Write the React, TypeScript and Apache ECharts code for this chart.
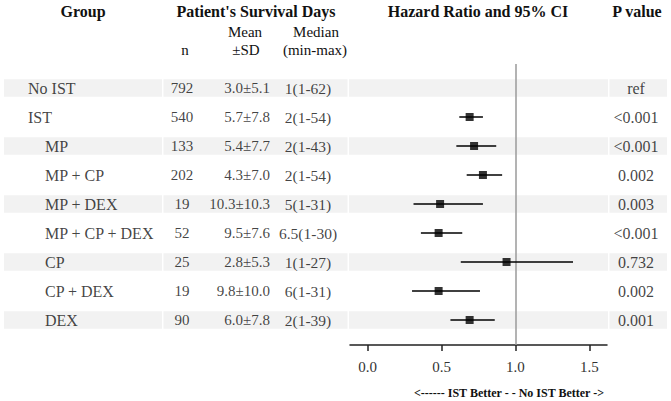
import React, { useEffect, useRef } from "react";
import * as echarts from "echarts";

const groups = ["No IST", "IST", "MP", "MP + CP", "MP + DEX", "MP + CP + DEX", "CP", "CP + DEX", "DEX"];
const indent = [0, 0, 1, 1, 1, 1, 1, 1, 1];
const nValues = [792, 540, 133, 202, 19, 52, 25, 19, 90];
const meanSD = ["3.0±5.1", "5.7±7.8", "5.4±7.7", "4.3±7.0", "10.3±10.3", "9.5±7.6", "2.8±5.3", "9.8±10.0", "6.0±7.8"];
const medianRange = ["1(1-62)", "2(1-54)", "2(1-43)", "2(1-54)", "5(1-31)", "6.5(1-30)", "1(1-27)", "6(1-31)", "2(1-39)"];
const hr = [null, 0.69, 0.72, 0.78, 0.49, 0.48, 0.94, 0.48, 0.69];
const ciLow = [null, 0.62, 0.6, 0.67, 0.31, 0.36, 0.63, 0.3, 0.56];
const ciHigh = [null, 0.78, 0.87, 0.91, 0.78, 0.64, 1.39, 0.76, 0.86];
const pValues = ["ref", "<0.001", "<0.001", "0.002", "0.003", "<0.001", "0.732", "0.002", "0.001"];
const xTicks = [0, 0.5, 1, 1.5];
const refValue = 1;

const FONT = "Liberation Serif";
const TEXT_COLOR = "#111";
const BAND_SEGMENTS: [number, number][] = [
  [4, 162],
  [163.5, 347.5],
  [349, 608],
  [609.5, 667],
];

export default function App() {
  const ref = useRef<HTMLDivElement>(null);

  useEffect(() => {
    document.body.style.margin = "0";
    if (!ref.current) return;
    const chart = echarts.init(ref.current, null, { renderer: "svg" });

    const yAxisBase = {
      type: "value" as const,
      inverse: true,
      min: -0.8276,
      max: 8.862,
      show: false,
    };

    const colSeries = (
      xs: number[] | number,
      texts: (string | number)[],
      position: string,
      fontSize: number
    ) => ({
      type: "scatter",
      xAxisIndex: 0,
      yAxisIndex: 0,
      symbolSize: 0,
      silent: true,
      z: 5,
      label: {
        show: true,
        position,
        distance: 0,
        fontFamily: FONT,
        fontSize,
        color: TEXT_COLOR,
        formatter: (p: any) => p.name,
      },
      data: texts.map((t, i) => ({
        name: String(t),
        value: [Array.isArray(xs) ? xs[i] : xs, i],
      })),
    });

    const header = (text: string, x: number, y: number, opts: any = {}) => ({
      type: "text",
      x,
      y,
      style: {
        text,
        fontFamily: FONT,
        fontSize: 15,
        fill: TEXT_COLOR,
        align: "center",
        verticalAlign: "middle",
        ...opts,
      },
    });

    const bandRows = groups.map((_, i) => i).filter((i) => i % 2 === 0);

    chart.setOption({
      animation: false,
      textStyle: { fontFamily: FONT },
      grid: [
        { left: 0, right: 0, top: 64, bottom: 56 },
        { left: 350, right: 64, top: 64, bottom: 56 },
      ],
      xAxis: [
        { type: "value", min: 0, max: 671, show: false, gridIndex: 0 },
        {
          type: "value",
          gridIndex: 1,
          min: -0.12,
          max: 1.62,
          axisLine: { show: true, onZero: false, lineStyle: { color: "#222", width: 1.5 } },
          axisTick: {
            show: true,
            customValues: xTicks,
            length: 6,
            lineStyle: { color: "#222", width: 1.5 },
          },
          axisLabel: {
            customValues: xTicks,
            formatter: (v: number) => v.toFixed(1),
            fontFamily: FONT,
            fontSize: 15,
            color: "#333",
            margin: 14,
          },
          splitLine: { show: false },
        },
      ],
      yAxis: [
        { ...yAxisBase, gridIndex: 0 },
        { ...yAxisBase, gridIndex: 1 },
      ],
      graphic: [
        header("Group", 83, 11, { fontWeight: "bold", fontSize: 16 }),
        header("Patient's Survival Days", 256, 11, { fontWeight: "bold", fontSize: 16 }),
        header("Hazard Ratio and 95% CI", 478, 11, { fontWeight: "bold", fontSize: 16 }),
        header("P value", 637, 11, { fontWeight: "bold", fontSize: 16 }),
        header("Mean", 245, 32),
        header("Median", 316, 32),
        header("n", 185, 50),
        header("±SD", 246, 50),
        header("(min-max)", 315, 50),
        header("<------ IST Better - - No IST Better ->", 509, 393, {
          fontWeight: "bold",
          fontSize: 12,
        }),
      ],
      series: [
        {
          type: "custom",
          xAxisIndex: 0,
          yAxisIndex: 0,
          silent: true,
          z: 0,
          data: bandRows.map((i) => [0, i]),
          renderItem: (_params: any, api: any) => {
            const row = api.value(1);
            const h = api.size([0, 0.6])[1];
            return {
              type: "group",
              children: BAND_SEGMENTS.map(([x0, x1]) => {
                const p0 = api.coord([x0, row]);
                const p1 = api.coord([x1, row]);
                return {
                  type: "rect",
                  shape: { x: p0[0], y: p0[1] - h / 2, width: p1[0] - p0[0], height: h },
                  style: { fill: "#f2f2f2" },
                };
              }),
            };
          },
        },
        colSeries(indent.map((d) => (d ? 45 : 28)), groups, "right", 16),
        colSeries(182, nValues, "inside", 15),
        colSeries(270, meanSD, "left", 15),
        colSeries(308, medianRange, "inside", 15.5),
        colSeries(636, pValues, "inside", 16),
        {
          type: "custom",
          xAxisIndex: 1,
          yAxisIndex: 1,
          silent: true,
          z: 3,
          encode: { x: [0, 2], y: 1 },
          data: groups
            .map((_, i) => (ciLow[i] == null ? null : [ciLow[i], i, ciHigh[i]]))
            .filter((d) => d !== null),
          renderItem: (_params: any, api: any) => {
            const a = api.coord([api.value(0), api.value(1)]);
            const b = api.coord([api.value(2), api.value(1)]);
            return {
              type: "line",
              shape: { x1: a[0], y1: a[1], x2: b[0], y2: b[1] },
              style: { stroke: "#000", lineWidth: 1.5 },
            };
          },
        },
        {
          type: "scatter",
          xAxisIndex: 1,
          yAxisIndex: 1,
          symbol: "rect",
          symbolSize: 8,
          silent: true,
          z: 4,
          itemStyle: { color: "#000" },
          data: groups
            .map((_, i) => (hr[i] == null ? null : [hr[i], i]))
            .filter((d) => d !== null),
          markLine: {
            silent: true,
            symbol: "none",
            label: { show: false },
            lineStyle: { color: "#9a9a9a", width: 1.5, type: "solid" },
            data: [{ xAxis: refValue }],
            z: 2,
          },
        },
      ],
    });

    return () => chart.dispose();
  }, []);

  return (
    <div
      ref={ref}
      style={{ position: "absolute", left: 0, top: 0, width: 671, height: 401 }}
    />
  );
}
